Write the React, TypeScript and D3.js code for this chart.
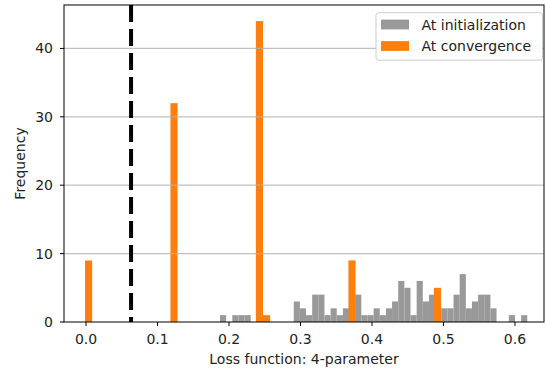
import React from "react";
import * as d3 from "d3";

// histogram counts, 50 bins each
const initCounts = [
  1, 0, 1, 1, 1, 0, 0, 0, 0, 0,
  0, 0, 3, 2, 1, 4, 4, 1, 2, 1,
  2, 3, 4, 1, 1, 2, 1, 2, 3, 6,
  5, 1, 6, 3, 4, 2, 2, 2, 4, 7,
  2, 3, 4, 4, 2, 0, 0, 1, 0, 1,
];
const initRange = [0.1874, 0.6172];

const convCounts = [
  9, 0, 0, 0, 0, 0, 0, 0, 0, 0,
  0, 0, 32, 0, 0, 0, 0, 0, 0, 0,
  0, 0, 0, 0, 44, 1, 0, 0, 0, 0,
  0, 0, 0, 0, 0, 0, 0, 9, 0, 0,
  0, 0, 0, 0, 0, 0, 0, 0, 0, 5,
];
const convRange = [-0.0014, 0.4965];

const thresholdLoss = 0.063;
const xTicks = [0.0, 0.1, 0.2, 0.3, 0.4, 0.5, 0.6];
const yTicks = [0, 10, 20, 30, 40];
const seriesNames = ["At initialization", "At convergence"];

const width = 546;
const height = 375;
const margin = { left: 64, right: 2, top: 5, bottom: 53 };
const font = "DejaVu Sans, sans-serif";
const gray = "#999999";
const orange = "#ff7f0e";

function bins(counts: number[], range: number[]) {
  const step = (range[1] - range[0]) / counts.length;
  return counts.map((c, i) => ({
    x0: range[0] + i * step,
    x1: range[0] + (i + 1) * step,
    count: c,
  }));
}

export default function App() {
  const x = d3
    .scaleLinear()
    .domain([-0.0308, 0.6406])
    .range([margin.left, width - margin.right]);
  const y = d3
    .scaleLinear()
    .domain([0, 46.35])
    .range([height - margin.bottom, margin.top]);

  const plotBottom = height - margin.bottom;
  const series = [
    { name: seriesNames[0], color: gray, data: bins(initCounts, initRange) },
    { name: seriesNames[1], color: orange, data: bins(convCounts, convRange) },
  ];

  return (
    <svg
      width={width}
      height={height}
      style={{ position: "absolute", left: 0, top: 0, background: "#fff" }}
      fontFamily={font}
    >
      {/* bars */}
      {series.map((s) => (
        <g key={s.name} fill={s.color}>
          {s.data
            .filter((b) => b.count > 0)
            .map((b, i) => (
              <rect
                key={i}
                x={x(b.x0)}
                width={x(b.x1) - x(b.x0)}
                y={y(b.count)}
                height={plotBottom - y(b.count)}
              />
            ))}
        </g>
      ))}

      {/* grid on top, like the original */}
      {yTicks
        .filter((t) => t > 0)
        .map((t) => (
          <line
            key={t}
            x1={margin.left}
            x2={width - margin.right}
            y1={y(t)}
            y2={y(t)}
            stroke="#b0b0b0"
            strokeOpacity={0.8}
            strokeWidth={1.2}
          />
        ))}

      {/* threshold */}
      <line
        x1={x(thresholdLoss)}
        x2={x(thresholdLoss)}
        y1={margin.top}
        y2={plotBottom}
        stroke="#000"
        strokeWidth={4}
        strokeDasharray="17,7"
      />

      {/* frame */}
      <rect
        x={margin.left}
        y={margin.top}
        width={width - margin.right - margin.left}
        height={plotBottom - margin.top}
        fill="none"
        stroke="#000"
        strokeWidth={1}
      />

      {/* x axis */}
      {xTicks.map((t) => (
        <g key={t} transform={`translate(${x(t)},${plotBottom})`}>
          <line y2={4} stroke="#000" />
          <text y={21.5} textAnchor="middle" fontSize={14} fill="#222">
            {t.toFixed(1)}
          </text>
        </g>
      ))}
      <text
        x={(margin.left + width - margin.right) / 2}
        y={363.5}
        textAnchor="middle"
        fontSize={14}
        fill="#222"
      >
        Loss function: 4-parameter
      </text>

      {/* y axis */}
      {yTicks.map((t) => (
        <g key={t} transform={`translate(${margin.left},${y(t)})`}>
          <line x2={-4} stroke="#000" />
          <text x={-11} dy={5} textAnchor="end" fontSize={14} fill="#222">
            {t}
          </text>
        </g>
      ))}
      <text
        transform={`translate(25,${(margin.top + plotBottom) / 2}) rotate(-90)`}
        textAnchor="middle"
        fontSize={14}
        fill="#222"
      >
        Frequency
      </text>

      {/* legend */}
      <g>
        <rect
          x={376}
          y={12.7}
          width={166.5}
          height={47.5}
          rx={2.5}
          fill="#fff"
          fillOpacity={0.9}
          stroke="#cccccc"
        />
        {series.map((s, i) => (
          <g key={s.name} transform={`translate(381,${24.5 + i * 21.5})`}>
            <rect y={-4.9} width={28} height={9.8} fill={s.color} />
            <text x={40.5} dy={5} fontSize={14} fill="#222">
              {s.name}
            </text>
          </g>
        ))}
      </g>
    </svg>
  );
}
